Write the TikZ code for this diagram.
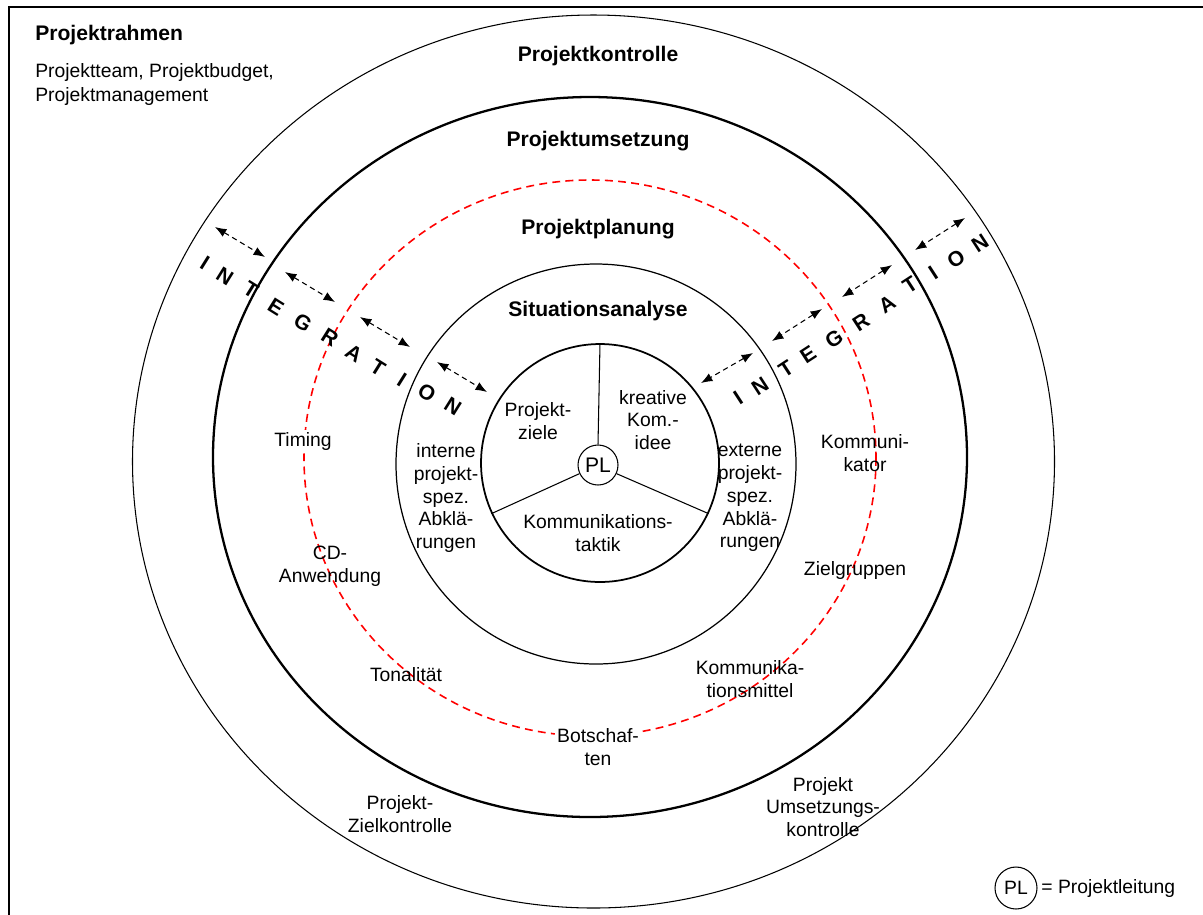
\documentclass[tikz,border=0pt]{standalone}
\usepackage{fontspec}
\setmainfont{Liberation Sans}
\usetikzlibrary{arrows.meta,positioning}

\tikzset{
  lbl/.style={align=center,font=\fontsize{11}{13}\selectfont,inner sep=1pt},
  ttl/.style={font=\fontsize{12}{14}\selectfont\bfseries,inner sep=1pt},
  ltr/.style={font=\fontsize{12}{14}\selectfont\bfseries,inner sep=0pt},
  integ/.style={dash pattern=on 3pt off 2.2pt,line width=0.6pt,
    {Latex[length=6.5pt,width=5pt]}-{Latex[length=6.5pt,width=5pt]}},
}

\begin{document}
\begin{tikzpicture}[x=0.02cm,y=-0.02cm,>=Latex]
  \useasboundingbox (0,0) rectangle (1203,914);
  \draw[line width=1.4pt] (9,7) rectangle (1215,925);

  \draw[line width=0.6pt] (593.5,461.5) ellipse [x radius=461, y radius=446.5];
  \draw[line width=1.3pt] (590,457) ellipse [x radius=377, y radius=360];
  \draw[red,line width=0.9pt,dash pattern=on 4.5pt off 3pt] (590,458) ellipse [x radius=286, y radius=278];
  \draw[line width=0.7pt] (596,464) circle [radius=200];

  \node[circle,draw,line width=1pt,minimum size=4.76cm,inner sep=0pt] (core) at (600,463) {};
  \node[circle,draw,line width=0.6pt,minimum size=0.8cm,inner sep=0pt,
    font=\fontsize{12}{14}\selectfont] (pl) at (598,465) {PL};
  \draw[line width=0.6pt] (pl.90) -- (core.90);
  \draw[line width=0.6pt] (pl.205) -- (core.205);
  \draw[line width=0.6pt] (pl.335) -- (core.335);

  \node[ttl,inner sep=0pt,anchor=west] (rahmen) at (35,35) {Projektrahmen};
  \node[align=left,font=\fontsize{11}{14}\selectfont,anchor=north west,inner sep=0pt] (rahmentxt) at (35,63)
    {Projektteam, Projektbudget,\\Projektmanagement};

  \node[ttl] (kontrolle) at (598,56) {Projektkontrolle};
  \node[ttl] (umsetzung) at (598,141) {Projektumsetzung};
  \node[ttl] (planung) at (598,229) {Projektplanung};
  \node[ttl] (analyse) at (598,311) {Situationsanalyse};

  \node[lbl] (ziele) at (538,421) {Projekt-\\ziele};
  \node[lbl] (idee) at (653,420) {kreative\\Kom.-\\idee};
  \node[lbl] (taktik) at (598,533) {Kommunikations-\\taktik};
  \node[lbl] (intern) at (446,498) {interne\\projekt-\\spez.\\Abklä-\\rungen};
  \node[lbl] (extern) at (750,498) {externe\\projekt-\\spez.\\Abklä-\\rungen};

  \node[lbl,fill=white] (timing) at (303,441) {Timing};
  \node[lbl] (cd) at (330,566) {CD-\\Anwendung};
  \node[lbl] (tonal) at (406,675) {Tonalität};
  \node[lbl,fill=white] (botschaft) at (598,747) {Botschaf-\\ten};
  \node[lbl] (mittel) at (750,679) {Kommunika-\\tionsmittel};
  \node[lbl] (ziel) at (855,570) {Zielgruppen};
  \node[lbl] (kommunikator) at (865,453) {Kommuni-\\kator};
  \node[lbl] (zielktr) at (400,814) {Projekt-\\Zielkontrolle};
  \node[lbl] (umsktr) at (823,807) {Projekt\\Umsetzungs-\\kontrolle};

  \foreach \l/\x/\y [count=\i] in {I/205/263,N/225/276,T/251/290,E/276/307,G/303/323,
      R/330/337,A/354/353,T/378/368,I/402/380,O/427/393,N/453/406}
    \node[ltr,rotate=-32] (il\i) at (\x,\y) {\l};
  \foreach \l/\x/\y [count=\i] in {I/738/398,N/760/386,T/786/369,E/808/355,G/834/339,
      R/861/322,A/887/304,T/910/285,I/933/273,O/956/259,N/980/243}
    \node[ltr,rotate=33] (ir\i) at (\x,\y) {\l};

  \foreach \xa/\ya/\xb/\yb [count=\i] in {215/227/265/257,285/272/335/302,
      360/317/410/347,437/362/487/392} {
    \coordinate (la\i) at (\xa,\ya);
    \coordinate (lb\i) at (\xb,\yb);
    \draw[integ] (la\i) -- (lb\i);
  }
  \foreach \xa/\ya/\xb/\yb [count=\i] in {965/218/915/250,892/265/842/297,
      822/309/772/341,753/353/701/383} {
    \coordinate (ra\i) at (\xa,\ya);
    \coordinate (rb\i) at (\xb,\yb);
    \draw[integ] (ra\i) -- (rb\i);
  }

  \node[circle,draw,line width=0.6pt,minimum size=0.84cm,inner sep=0pt,
    font=\fontsize{11}{13}\selectfont] (legpl) at (1016,888) {PL};
  \node[lbl,right=1pt of legpl] (legtxt) {= Projektleitung};
\end{tikzpicture}
\end{document}
